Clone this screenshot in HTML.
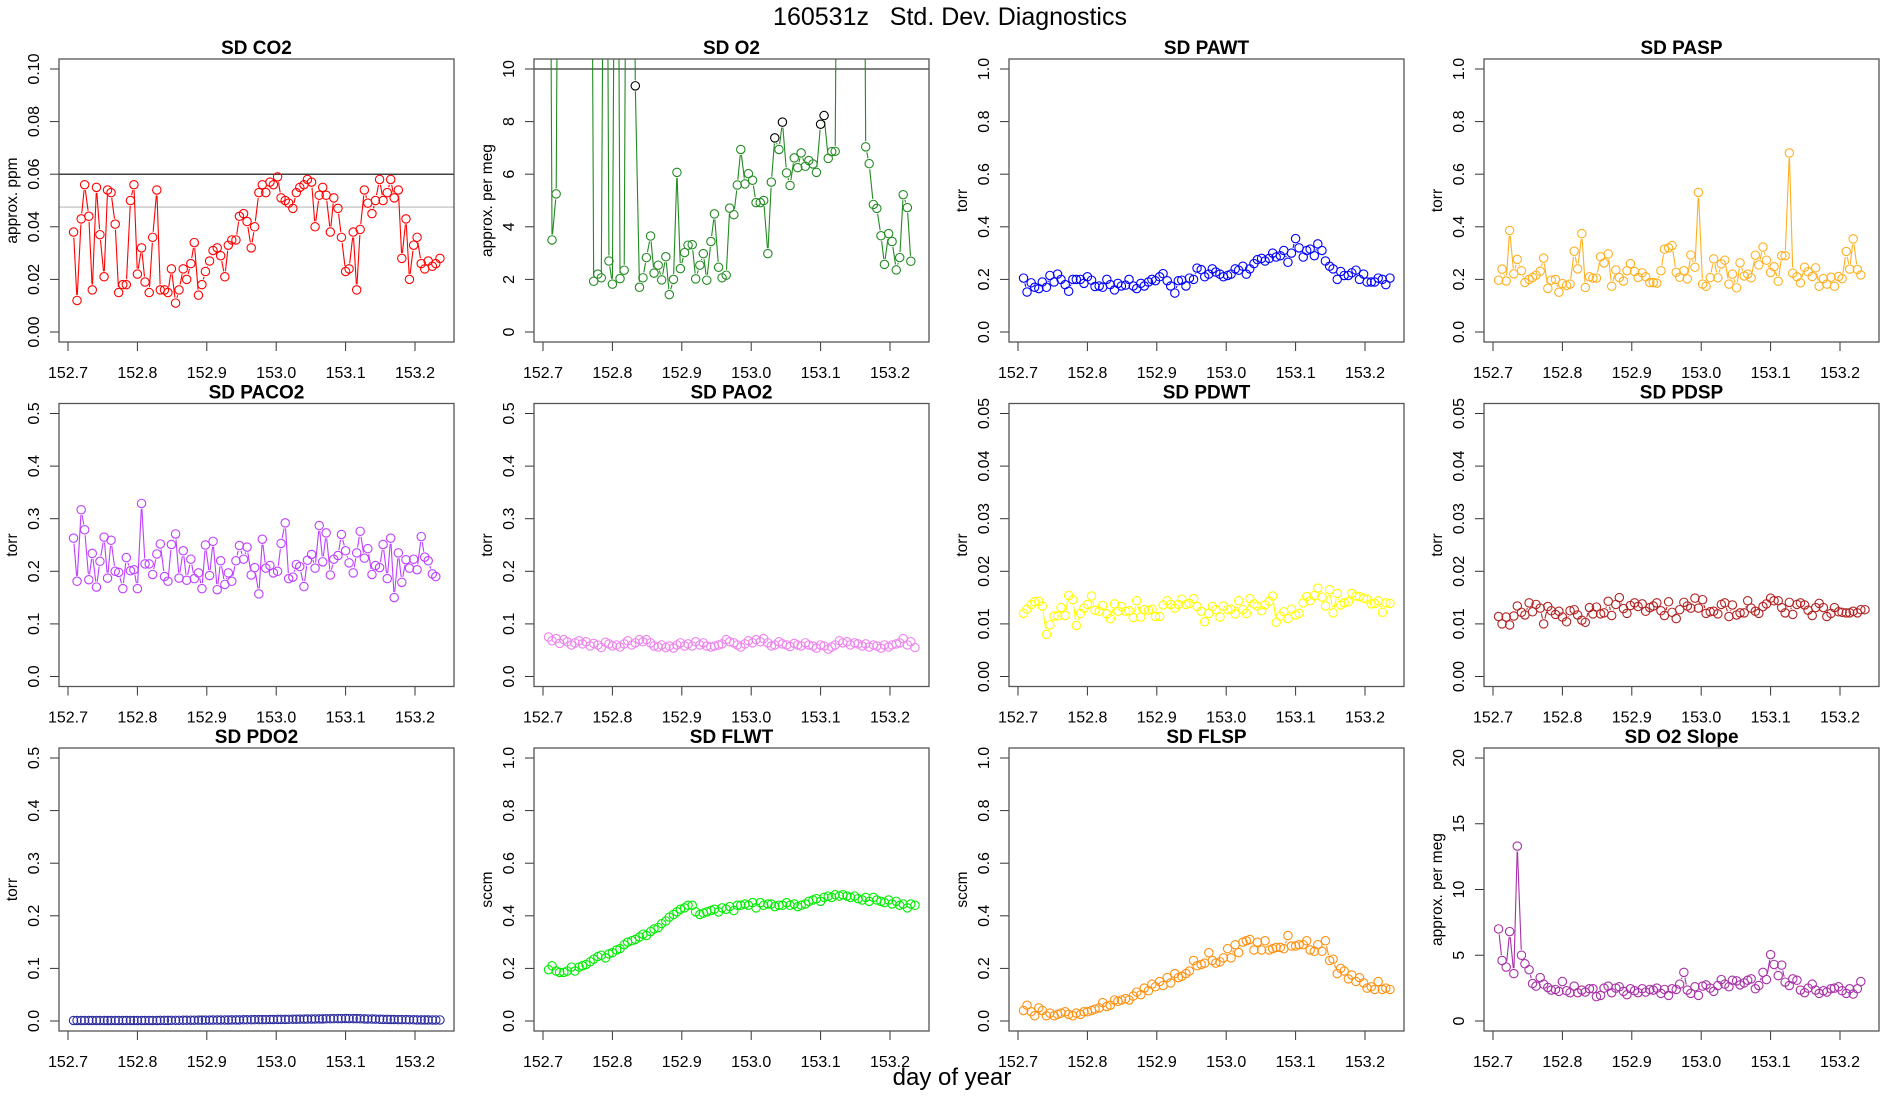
<!DOCTYPE html>
<html><head><meta charset="utf-8"><title>Std. Dev. Diagnostics</title>
<style>
html,body{margin:0;padding:0;background:#fff;}
svg{display:block;font-family:"Liberation Sans",Arial,sans-serif;}
</style></head>
<body>
<svg id="chart" width="1900" height="1100" viewBox="0 0 1900 1100" xmlns="http://www.w3.org/2000/svg">
<rect width="1900" height="1100" fill="#fff"/>
<text x="950" y="25" text-anchor="middle" font-size="25" fill="#000" xml:space="preserve" style="white-space:pre">160531z   Std. Dev. Diagnostics</text>
<text x="952" y="1085" text-anchor="middle" font-size="24" fill="#000">day of year</text>
</svg>
<script>
const times = [152.708,152.713,152.719,152.724,152.730,152.735,152.741,152.746,152.752,152.757,152.762,152.768,152.773,152.779,152.784,152.790,152.795,152.800,152.806,152.811,152.817,152.822,152.828,152.833,152.839,152.844,152.849,152.855,152.860,152.866,152.871,152.877,152.882,152.888,152.893,152.898,152.904,152.909,152.915,152.920,152.926,152.931,152.936,152.942,152.947,152.953,152.958,152.964,152.969,152.975,152.980,152.985,152.991,152.996,153.002,153.007,153.013,153.018,153.024,153.029,153.034,153.040,153.045,153.051,153.056,153.062,153.067,153.072,153.078,153.083,153.089,153.094,153.100,153.105,153.111,153.116,153.121,153.127,153.132,153.138,153.143,153.149,153.154,153.160,153.165,153.170,153.176,153.181,153.187,153.192,153.198,153.203,153.209,153.214,153.219,153.225,153.230,153.236];
const xTicks = [152.7,152.8,152.9,153.0,153.1,153.2];
const xTickLabels = ["152.7","152.8","152.9","153.0","153.1","153.2"];

const co2 = [0.038,0.012,0.043,0.056,0.044,0.016,0.055,0.037,0.021,0.054,0.053,0.041,0.015,0.018,0.018,0.050,0.056,0.022,0.032,0.019,0.015,0.036,0.054,0.016,0.016,0.015,0.024,0.011,0.016,0.024,0.020,0.026,0.034,0.014,0.018,0.023,0.027,0.031,0.032,0.029,0.021,0.033,0.035,0.035,0.044,0.045,0.042,0.032,0.040,0.053,0.056,0.053,0.057,0.056,0.059,0.051,0.050,0.049,0.047,0.053,0.055,0.056,0.058,0.057,0.040,0.052,0.055,0.052,0.038,0.051,0.047,0.036,0.023,0.024,0.038,0.016,0.039,0.054,0.049,0.045,0.050,0.058,0.050,0.053,0.058,0.051,0.054,0.028,0.043,0.020,0.033,0.036,0.026,0.024,0.027,0.025,0.026,0.028];
const o2 = [30,3.5,5.25,30,30,30,30,30,30,30,30,30,1.93,2.2,2.06,30,2.7,1.82,30,2.03,2.35,30,30,9.36,1.7,2.06,2.83,3.65,2.24,2.54,1.98,2.86,1.42,2.0,6.07,2.41,3.02,3.3,3.32,2.02,2.54,2.98,1.97,3.44,4.49,2.46,2.06,2.16,4.71,4.46,5.59,6.94,5.63,6.02,5.77,4.92,4.92,5.0,2.98,5.7,7.38,6.94,7.98,6.05,5.57,6.62,6.25,6.81,6.3,6.52,6.39,6.07,7.9,8.23,6.6,6.86,6.87,30,30,30,30,30,30,30,7.04,6.4,4.85,4.7,3.66,2.57,3.74,3.44,2.36,2.83,5.22,4.73,2.69];
const pawt = [0.205,0.152,0.187,0.17,0.165,0.19,0.17,0.215,0.19,0.22,0.2,0.18,0.155,0.2,0.2,0.2,0.185,0.21,0.197,0.173,0.175,0.17,0.2,0.18,0.16,0.185,0.175,0.178,0.2,0.175,0.165,0.185,0.175,0.19,0.2,0.195,0.21,0.222,0.195,0.175,0.148,0.195,0.197,0.175,0.205,0.2,0.243,0.237,0.21,0.22,0.24,0.228,0.22,0.21,0.215,0.22,0.24,0.235,0.25,0.22,0.24,0.26,0.275,0.28,0.27,0.28,0.3,0.285,0.29,0.31,0.265,0.3,0.355,0.32,0.285,0.31,0.315,0.29,0.335,0.31,0.27,0.25,0.24,0.2,0.23,0.215,0.215,0.225,0.235,0.2,0.22,0.19,0.19,0.19,0.205,0.2,0.18,0.205];
const pasp = [0.197,0.239,0.194,0.386,0.221,0.276,0.233,0.188,0.2,0.207,0.216,0.231,0.281,0.166,0.197,0.2,0.151,0.184,0.177,0.182,0.307,0.24,0.374,0.169,0.21,0.205,0.205,0.286,0.263,0.297,0.174,0.236,0.207,0.194,0.233,0.26,0.23,0.207,0.225,0.21,0.188,0.188,0.186,0.233,0.315,0.32,0.329,0.227,0.208,0.233,0.202,0.293,0.246,0.531,0.182,0.174,0.207,0.278,0.206,0.259,0.273,0.182,0.22,0.168,0.263,0.213,0.22,0.206,0.292,0.255,0.323,0.273,0.226,0.248,0.193,0.29,0.29,0.681,0.224,0.21,0.187,0.246,0.229,0.211,0.244,0.174,0.203,0.182,0.208,0.174,0.211,0.203,0.306,0.239,0.354,0.238,0.217];
const paco2 = [0.263,0.181,0.317,0.279,0.184,0.234,0.170,0.219,0.265,0.187,0.259,0.2,0.198,0.167,0.226,0.201,0.203,0.167,0.329,0.214,0.214,0.194,0.233,0.252,0.19,0.181,0.251,0.271,0.187,0.239,0.183,0.223,0.186,0.197,0.167,0.25,0.192,0.257,0.165,0.22,0.175,0.197,0.181,0.22,0.249,0.223,0.246,0.193,0.207,0.157,0.261,0.206,0.211,0.197,0.2,0.253,0.292,0.186,0.189,0.213,0.209,0.171,0.221,0.232,0.206,0.287,0.218,0.273,0.193,0.223,0.23,0.27,0.239,0.216,0.197,0.235,0.276,0.225,0.243,0.194,0.211,0.207,0.251,0.186,0.263,0.15,0.235,0.179,0.222,0.206,0.223,0.203,0.266,0.227,0.22,0.195,0.19];
const pao2 = [0.075,0.068,0.072,0.063,0.07,0.066,0.06,0.064,0.068,0.062,0.066,0.058,0.063,0.06,0.055,0.065,0.062,0.058,0.06,0.056,0.062,0.068,0.06,0.064,0.07,0.066,0.07,0.064,0.058,0.056,0.06,0.055,0.058,0.054,0.06,0.064,0.058,0.062,0.058,0.066,0.06,0.064,0.058,0.056,0.058,0.06,0.062,0.07,0.066,0.064,0.06,0.056,0.062,0.068,0.064,0.07,0.066,0.072,0.064,0.058,0.06,0.066,0.062,0.06,0.057,0.063,0.06,0.058,0.064,0.06,0.058,0.054,0.06,0.058,0.052,0.056,0.06,0.068,0.064,0.066,0.06,0.064,0.062,0.058,0.062,0.056,0.06,0.058,0.054,0.06,0.056,0.06,0.062,0.064,0.072,0.06,0.066,0.055];
const pdwt = [0.012,0.0128,0.0137,0.0142,0.0143,0.0134,0.008,0.0098,0.0115,0.0115,0.0131,0.0116,0.0154,0.0146,0.0097,0.012,0.013,0.0137,0.0153,0.0126,0.0124,0.0135,0.0119,0.011,0.0138,0.0124,0.0133,0.0124,0.0125,0.0112,0.0144,0.0113,0.0127,0.0126,0.0128,0.0114,0.0114,0.0136,0.0144,0.0137,0.013,0.0137,0.0147,0.0137,0.0139,0.0148,0.0133,0.0124,0.0104,0.012,0.0133,0.0127,0.0113,0.0134,0.0127,0.0128,0.0119,0.0144,0.0127,0.012,0.0148,0.0138,0.0134,0.0125,0.0136,0.0143,0.0153,0.0103,0.0115,0.0123,0.011,0.0128,0.0117,0.012,0.014,0.0152,0.0144,0.0154,0.0168,0.0151,0.0134,0.0165,0.0121,0.0158,0.0136,0.014,0.0142,0.0158,0.0153,0.0152,0.0149,0.0147,0.0138,0.0139,0.0144,0.0122,0.014,0.0139];
const pdsp = [0.0114,0.01,0.0113,0.0098,0.0115,0.0134,0.0122,0.0117,0.014,0.0123,0.0137,0.0130,0.01,0.0133,0.0125,0.0118,0.0124,0.0113,0.0104,0.0125,0.0127,0.0117,0.0107,0.0103,0.0131,0.0119,0.0132,0.0119,0.0121,0.0143,0.0116,0.0137,0.015,0.0129,0.012,0.0135,0.014,0.0133,0.0138,0.0124,0.0131,0.0134,0.014,0.0125,0.0116,0.0142,0.0122,0.011,0.0127,0.0141,0.0134,0.013,0.0149,0.013,0.0146,0.012,0.0123,0.0124,0.0119,0.0137,0.014,0.0114,0.0136,0.0117,0.0121,0.0121,0.0144,0.013,0.0124,0.012,0.0133,0.0138,0.0149,0.0144,0.0144,0.0131,0.0121,0.0141,0.0118,0.0137,0.014,0.0136,0.0126,0.0116,0.0131,0.0139,0.0131,0.0114,0.012,0.0131,0.0123,0.0122,0.0121,0.0121,0.0124,0.0121,0.0127,0.0127];
const pdo2 = [0.001,0.001,0.001,0.001,0.001,0.001,0.001,0.001,0.001,0.001,0.001,0.001,0.001,0.001,0.001,0.001,0.001,0.001,0.001,0.001,0.001,0.001,0.001,0.0012,0.0012,0.0012,0.0013,0.0013,0.0013,0.0014,0.0014,0.0015,0.0015,0.0016,0.0016,0.0017,0.0017,0.0018,0.0018,0.0019,0.002,0.002,0.0021,0.0021,0.0022,0.0023,0.0023,0.0024,0.0025,0.0026,0.0026,0.0027,0.0028,0.0029,0.003,0.003,0.0031,0.0032,0.0033,0.0034,0.0035,0.0036,0.0037,0.0038,0.0039,0.004,0.0041,0.0042,0.0043,0.0044,0.0045,0.0046,0.0047,0.0046,0.0045,0.0044,0.0043,0.0041,0.0039,0.0037,0.0035,0.0033,0.0031,0.003,0.0029,0.0028,0.0027,0.0026,0.0025,0.0024,0.0023,0.0022,0.0022,0.0021,0.0021,0.002,0.002,0.002];
const flwt = [0.195,0.21,0.19,0.185,0.185,0.19,0.205,0.19,0.205,0.21,0.215,0.225,0.235,0.245,0.25,0.24,0.255,0.26,0.27,0.275,0.29,0.30,0.305,0.31,0.32,0.33,0.325,0.34,0.35,0.355,0.37,0.38,0.395,0.405,0.415,0.425,0.43,0.44,0.44,0.415,0.405,0.41,0.415,0.42,0.425,0.415,0.43,0.425,0.435,0.42,0.44,0.44,0.445,0.44,0.45,0.43,0.45,0.44,0.445,0.445,0.435,0.44,0.44,0.45,0.44,0.445,0.435,0.44,0.445,0.455,0.46,0.465,0.455,0.47,0.475,0.47,0.48,0.475,0.48,0.475,0.47,0.475,0.465,0.46,0.47,0.455,0.47,0.46,0.455,0.45,0.46,0.445,0.455,0.44,0.445,0.43,0.445,0.44];
const flsp = [0.04,0.06,0.035,0.02,0.05,0.04,0.02,0.03,0.02,0.025,0.03,0.035,0.025,0.02,0.03,0.025,0.035,0.035,0.04,0.045,0.05,0.07,0.055,0.06,0.08,0.075,0.08,0.085,0.08,0.095,0.11,0.10,0.125,0.115,0.14,0.13,0.15,0.135,0.165,0.145,0.18,0.165,0.17,0.18,0.19,0.23,0.21,0.215,0.22,0.26,0.23,0.22,0.225,0.24,0.275,0.24,0.29,0.26,0.30,0.305,0.31,0.27,0.30,0.27,0.305,0.27,0.275,0.28,0.28,0.275,0.325,0.285,0.285,0.29,0.29,0.305,0.27,0.265,0.29,0.265,0.305,0.23,0.235,0.18,0.20,0.19,0.16,0.175,0.15,0.165,0.145,0.125,0.13,0.12,0.15,0.12,0.125,0.12];
const o2slope = [7.0,4.6,4.1,6.8,3.6,13.3,5.0,4.35,3.9,2.85,2.65,3.3,2.8,2.55,2.35,2.4,2.25,3.0,2.3,2.15,2.65,2.15,2.35,2.2,2.45,2.45,1.85,1.95,2.5,2.65,2.15,2.5,2.6,2.25,2.0,2.45,2.3,2.15,2.45,2.2,2.4,2.35,2.5,2.1,2.4,1.95,2.45,2.4,2.8,3.7,2.35,2.1,2.6,1.95,2.65,2.75,2.5,2.25,2.7,3.15,2.8,2.6,3.1,3.05,2.75,2.9,3.1,3.2,2.45,2.7,3.7,3.15,5.05,4.3,3.45,4.25,2.95,2.7,3.2,3.1,2.35,2.15,2.5,2.8,2.35,2.1,2.3,2.2,2.45,2.5,2.6,2.3,2.1,2.45,2.05,2.45,3.0];

const ticks01 = [0,0.02,0.04,0.06,0.08,0.10], ticks01Labels = ["0.00","0.02","0.04","0.06","0.08","0.10"];
const ticks10 = [0,2,4,6,8,10], ticks10Labels = ["0","2","4","6","8","10"];
const ticks1 = [0,0.2,0.4,0.6,0.8,1.0], ticks1Labels = ["0.0","0.2","0.4","0.6","0.8","1.0"];
const ticks05 = [0,0.1,0.2,0.3,0.4,0.5], ticks05Labels = ["0.0","0.1","0.2","0.3","0.4","0.5"];
const ticks005 = [0,0.01,0.02,0.03,0.04,0.05], ticks005Labels = ["0.00","0.01","0.02","0.03","0.04","0.05"];
const ticks20 = [0,5,10,15,20], ticks20Labels = ["0","5","10","15","20"];
const co2RefLines = [0.06, 0.0475];
const o2RefLines = [10];

const panels = [
 {title:"SD CO2", name:"co2", ylab:"approx. ppm", data:co2, ymax:0.1, yt:ticks01, ytl:ticks01Labels, color:"#ff0000", refs:co2RefLines},
 {title:"SD O2", name:"o2", ylab:"approx. per meg", data:o2, ymax:10, yt:ticks10, ytl:ticks10Labels, color:"#228b22", refs:o2RefLines, flagAbove:7.2},
 {title:"SD PAWT", name:"pawt", ylab:"torr", data:pawt, ymax:1, yt:ticks1, ytl:ticks1Labels, color:"#0000ff"},
 {title:"SD PASP", name:"pasp", ylab:"torr", data:pasp, ymax:1, yt:ticks1, ytl:ticks1Labels, color:"#ffb020"},
 {title:"SD PACO2", name:"paco2", ylab:"torr", data:paco2, ymax:0.5, yt:ticks05, ytl:ticks05Labels, color:"#bf3eff"},
 {title:"SD PAO2", name:"pao2", ylab:"torr", data:pao2, ymax:0.5, yt:ticks05, ytl:ticks05Labels, color:"#ee82ee"},
 {title:"SD PDWT", name:"pdwt", ylab:"torr", data:pdwt, ymax:0.05, yt:ticks005, ytl:ticks005Labels, color:"#ffff00"},
 {title:"SD PDSP", name:"pdsp", ylab:"torr", data:pdsp, ymax:0.05, yt:ticks005, ytl:ticks005Labels, color:"#b22222"},
 {title:"SD PDO2", name:"pdo2", ylab:"torr", data:pdo2, ymax:0.5, yt:ticks05, ytl:ticks05Labels, color:"#2b2b9e"},
 {title:"SD FLWT", name:"flwt", ylab:"sccm", data:flwt, ymax:1, yt:ticks1, ytl:ticks1Labels, color:"#00ee00"},
 {title:"SD FLSP", name:"flsp", ylab:"sccm", data:flsp, ymax:1, yt:ticks1, ytl:ticks1Labels, color:"#ff9010"},
 {title:"SD O2 Slope", name:"o2-slope", ylab:"approx. per meg", data:o2slope, ymax:20, yt:ticks20, ytl:ticks20Labels, color:"#a830a8"}
];

const NS = "http://www.w3.org/2000/svg";
const svg = document.getElementById("chart");
function mk(tag, attrs, parent){
  const e = document.createElementNS(NS, tag);
  for (const k in attrs) e.setAttribute(k, attrs[k]);
  (parent||svg).appendChild(e);
  return e;
}
const BW = 395, BH = 283, R = 4.2, GAP = 5.5;

panels.forEach((p, idx) => {
  const col = idx % 4, row = Math.floor(idx / 4);
  const L = 59 + 475*col, T = 59 + 344.5*row;
  const xs = v => L + 9 + (v - 152.7) * 694;
  const ys = v => T + 273 - (v / p.ymax) * 263;

  const g = mk("g", {});
  
  

  const clip = mk("clipPath", {id:"clip"+idx}, g);
  mk("rect", {x:L, y:T, width:BW, height:BH}, clip);

  const title = mk("text", {x:L+BW/2, y:T-5, "text-anchor":"middle", "font-size":"19", "font-weight":"bold", fill:"#000"}, g);
  title.textContent = p.title;
  
  

  const ylab = mk("text", {transform:`translate(${L-42},${T+BH/2}) rotate(-90)`, "text-anchor":"middle", "font-size":"15.5", fill:"#000"}, g);
  ylab.textContent = p.ylab;
  
  

  p.yt.forEach((t, i) => {
    const y = ys(t);
    const tk = mk("line", {x1:L-9, x2:L, y1:y, y2:y, stroke:"#333", "stroke-width":1}, g);
    
    
    const tl = mk("text", {transform:`translate(${L-20},${y}) rotate(-90)`, "text-anchor":"middle", "font-size":"16", fill:"#000"}, g);
    tl.textContent = p.ytl[i];
    
    
  });
  xTicks.forEach((t, i) => {
    const x = xs(t);
    const tk = mk("line", {x1:x, x2:x, y1:T+BH, y2:T+BH+9, stroke:"#333", "stroke-width":1}, g);
    
    
    const tl = mk("text", {x:x, y:T+BH+36, "text-anchor":"middle", "font-size":"16", fill:"#000"}, g);
    tl.textContent = xTickLabels[i];
    
    
  });

  const plot = mk("g", {"clip-path":`url(#clip${idx})`}, g);
  
  

  (p.refs||[]).forEach((r, i) => {
    const ln = mk("line", {x1:L, x2:L+BW, y1:ys(r), y2:ys(r), stroke: i===0 ? "#000" : "#bbbbbb", "stroke-width":1.1}, plot);
    
    
  });

  const n = Math.min(p.data.length, times.length);
  for (let i = 0; i < n-1; i++) {
    const x1 = xs(times[i]), y1 = ys(p.data[i]), x2 = xs(times[i+1]), y2 = ys(p.data[i+1]);
    const dx = x2-x1, dy = y2-y1, len = Math.hypot(dx, dy);
    if (len <= 2*GAP) continue;
    const ux = dx/len, uy = dy/len;
    const seg = mk("line", {x1:x1+ux*GAP, y1:y1+uy*GAP, x2:x2-ux*GAP, y2:y2-uy*GAP, stroke:p.color, "stroke-width":1.1}, plot);
    
    
  }
  for (let i = 0; i < n; i++) {
    const v = p.data[i];
    const c = (p.flagAbove !== undefined && v > p.flagAbove && v < 20) ? "#000" : p.color;
    const pt = mk("circle", {cx:xs(times[i]), cy:ys(v), r:R, fill:"none", stroke:c, "stroke-width":1.1}, plot);
    
    
  }

  const box = mk("rect", {x:L, y:T, width:BW, height:BH, fill:"none", stroke:"#555", "stroke-width":1.3}, g);
  
  
});
</script>
</body></html>
